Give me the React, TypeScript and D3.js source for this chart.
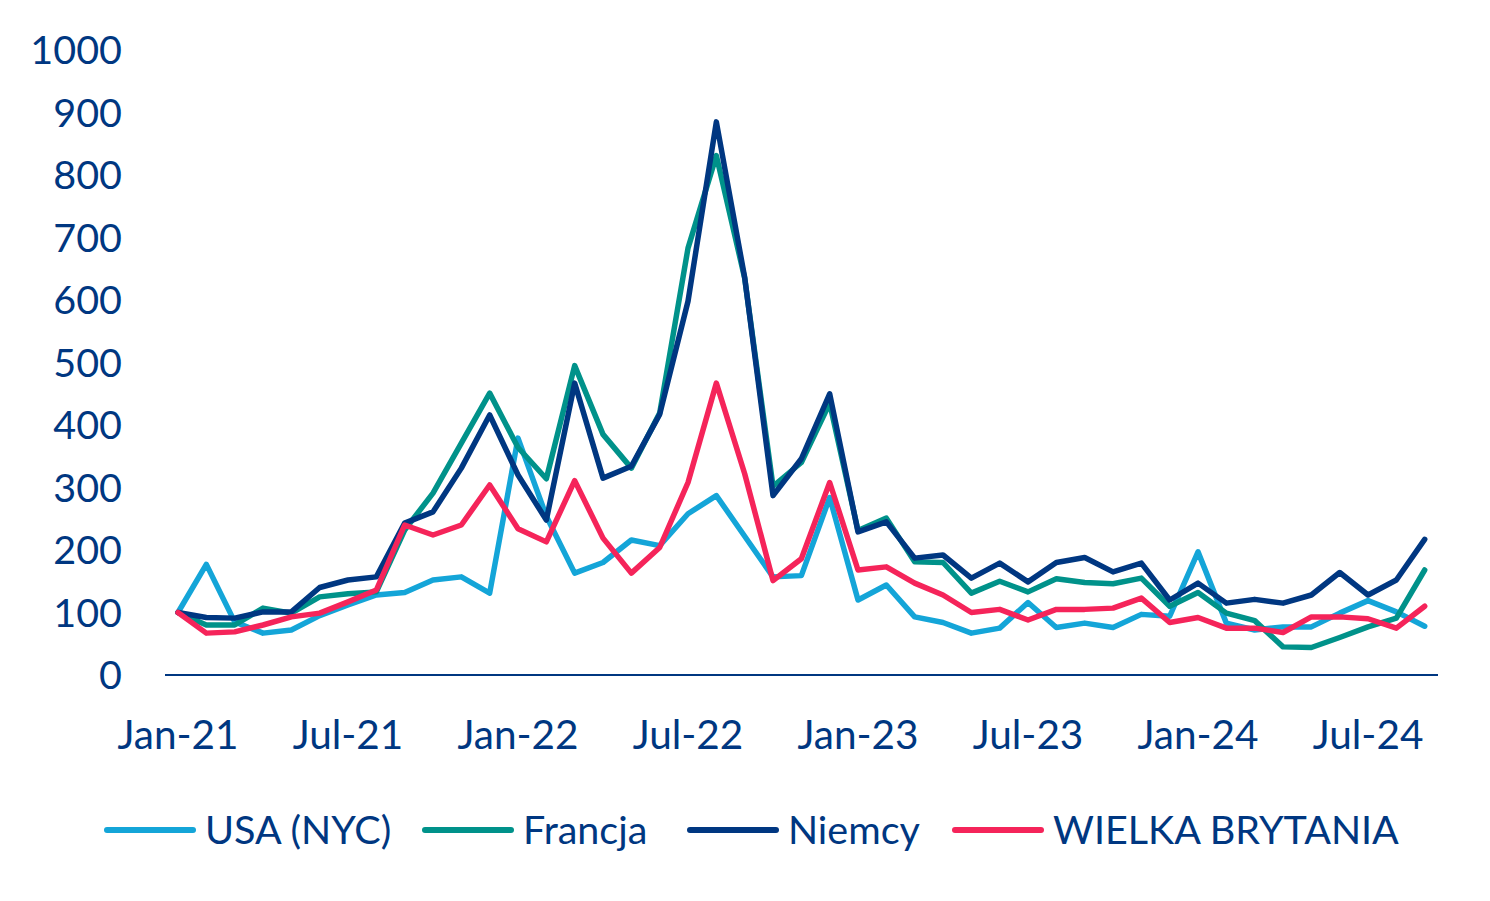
import React from "react";
import * as d3 from "d3";

const xTickIdx = [0, 6, 12, 18, 24, 30, 36, 42];
const xTickLabels = ["Jan-21", "Jul-21", "Jan-22", "Jul-22", "Jan-23", "Jul-23", "Jan-24", "Jul-24"];
const yTicks = [0, 100, 200, 300, 400, 500, 600, 700, 800, 900, 1000];

const usa = [100,177,85,67,72,95,112,128,132,152,157,131,379,254,163,180,216,207,258,287,222,157,159,284,120,144,93,84,67,75,116,76,83,76,97,94,197,83,72,77,77,99,119,101,78];
const francja = [100,80,80,107,99,125,130,133,232,291,371,451,364,314,495,385,331,419,683,831,635,302,340,435,231,251,181,180,131,150,133,154,148,146,155,110,132,99,87,45,44,60,77,91,168];
const niemcy = [100,92,91,101,101,140,152,157,243,261,331,416,320,248,467,315,334,417,598,885,636,287,346,450,229,245,187,192,155,179,149,180,188,165,179,120,147,115,121,115,128,164,128,152,217];
const wb = [100,67,69,80,93,99,117,136,240,224,240,304,234,213,311,219,163,204,308,467,322,151,186,308,168,173,147,128,100,105,88,105,105,107,123,84,92,75,75,68,93,93,90,75,110];

const seriesNames = ["USA (NYC)", "Francja", "Niemcy", "WIELKA BRYTANIA"];
const seriesColors = ["#14A5D8", "#00928A", "#003781", "#F5245A"];
const seriesData = [usa, francja, niemcy, wb];

const TEXT = "#003781";
const FONT = "Lato, 'Open Sans', sans-serif";

export default function App() {
  const W = 1490, H = 901;
  const x = d3.scaleLinear().domain([0, 44]).range([178, 1424.7]);
  const y = d3.scaleLinear().domain([0, 1000]).range([675, 50]);
  const line = d3.line<number>().x((_, i) => x(i)).y((d) => y(d));
  const legendX = [107, 425, 690, 955];

  return (
    <svg width={W} height={H} style={{ position: "absolute", left: 0, top: 0, background: "#fff" }} fontFamily={FONT}>
      {yTicks.map((t) => (
        <text key={t} x={122} y={y(t)} dy="0.36em" textAnchor="end" fontSize={39.5} fill={TEXT}>{t}</text>
      ))}
      <line x1={165} x2={1438} y1={y(0)} y2={y(0)} stroke={TEXT} strokeWidth={2} />
      {xTickIdx.map((i, k) => (
        <text key={i} x={x(i)} y={749} textAnchor="middle" fontSize={40.5} fill={TEXT}>{xTickLabels[k]}</text>
      ))}
      {seriesData.map((s, k) => (
        <path key={k} d={line(s) || ""} fill="none" stroke={seriesColors[k]} strokeWidth={5.5} strokeLinejoin="round" strokeLinecap="round" />
      ))}
      {seriesNames.map((n, k) => (
        <g key={n}>
          <line x1={legendX[k]} x2={legendX[k] + 86} y1={830} y2={830} stroke={seriesColors[k]} strokeWidth={6} strokeLinecap="round" />
          <text x={legendX[k] + 98} y={830} dy="0.36em" fontSize={39.5} fill={TEXT}>{n}</text>
        </g>
      ))}
    </svg>
  );
}
